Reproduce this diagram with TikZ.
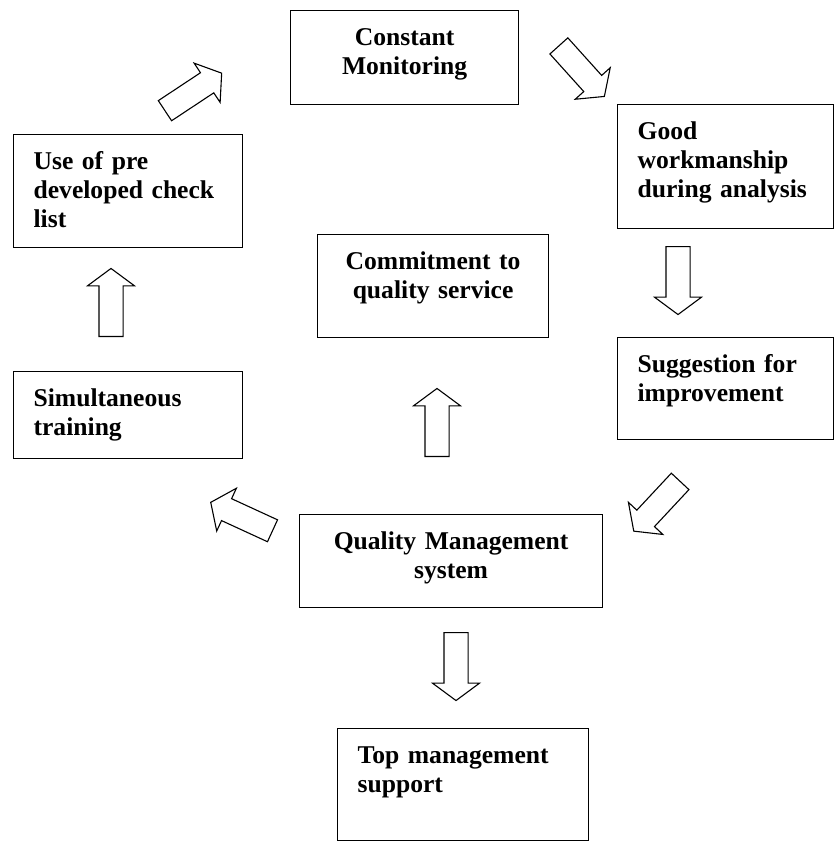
\documentclass[tikz,border=0pt]{standalone}
\usepackage{fontspec}
\setmainfont{Liberation Serif}
\usetikzlibrary{shapes.arrows}

\tikzset{
  stage/.style={draw, line width=1.2pt, anchor=north west, inner xsep=20pt, inner ysep=0pt,
    text height=35pt, font=\fontsize{25.6pt}{29pt}\selectfont\bfseries},
  flow/.style={draw, line width=1.1pt, single arrow, anchor=tail, inner sep=0pt,
    text height=23pt, text depth=0pt, minimum height=68pt,
    single arrow head extend=11.5pt, single arrow tip angle=107}
}

\begin{document}
\begin{tikzpicture}[x=1pt,y=-1pt]
\useasboundingbox (0,0) rectangle (835,842);

% the stages
\node[stage, text width=188pt, align=center, text depth=59pt] (mon) at (290,10) {Constant\\Monitoring};
\node[stage, text width=176pt, align=left, text depth=89pt] (good) at (617,104) {Good\\workmanship\\during analysis};
\node[stage, text width=189pt, align=left, text depth=78pt] (check) at (13,134) {Use of pre\\developed check\\list};
\node[stage, text width=191pt, align=center, text depth=68pt] (commit) at (317,234) {Commitment to\\quality service};
\node[stage, text width=176pt, align=left, text depth=67pt] (sugg) at (617,337) {Suggestion for\\improvement};
\node[stage, text width=189pt, align=left, text depth=52pt] (train) at (13,371) {Simultaneous\\training};
\node[stage, text width=263pt, align=center, text depth=58pt] (qms) at (299,514) {Quality Management\\system};
\node[stage, text width=211pt, align=left, text depth=77pt] (top) at (337,728) {Top management\\support};

% block arrows, placed by their tails
\node[flow, rotate=33.5] (a1) at (164.5,111) {};
\node[flow, rotate=-48] (a2) at (558.5,45.5) {};
\node[flow, rotate=-90] (a3) at (678,246) {};
\node[flow, rotate=-133] (a4) at (680.5,481) {};
\node[flow, rotate=155.3] (a5) at (273,531) {};
\node[flow, rotate=90] (a6) at (111,337) {};
\node[flow, rotate=90] (a7) at (437,457) {};
\node[flow, rotate=-90] (a8) at (456,632) {};
\end{tikzpicture}
\end{document}
